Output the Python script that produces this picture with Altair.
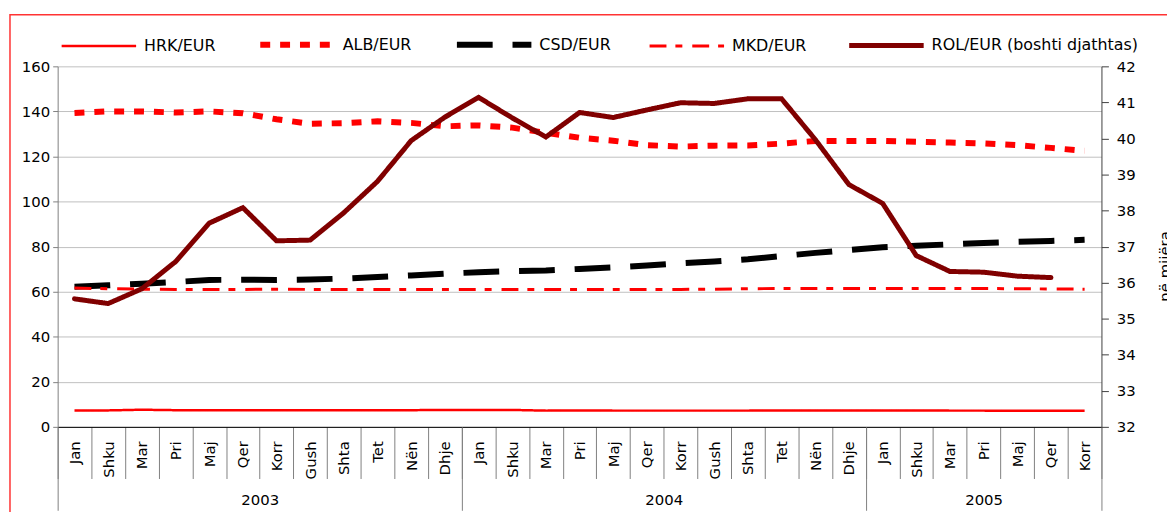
import altair as alt
import pandas as pd

months = ["Jan", "Shku", "Mar", "Pri", "Maj", "Qer", "Korr", "Gush", "Shta", "Tet", "Nën", "Dhje"]
years = ["2003", "2004", "2005"]
year_centers = [6, 18, 27.5]
year_bounds = [0, 12, 24, 31]

series_names = ["HRK/EUR", "ALB/EUR", "CSD/EUR", "MKD/EUR", "ROL/EUR (boshti djathtas)"]

hrk = [7.3, 7.3, 7.6, 7.4, 7.4, 7.4, 7.4, 7.4, 7.4, 7.4, 7.4, 7.5,
       7.5, 7.5, 7.2, 7.3, 7.2, 7.2, 7.2, 7.2, 7.2, 7.3, 7.3, 7.3,
       7.3, 7.3, 7.2, 7.2, 7.1, 7.1, 7.1]
alb = [139.3, 140.0, 140.0, 139.5, 140.0, 139.2, 136.5, 134.5, 134.8, 135.6, 134.9, 133.4,
       133.8, 132.8, 130.5, 128.3, 127.0, 125.0, 124.4, 124.8, 124.9, 125.7, 126.9, 126.9,
       126.9, 126.5, 126.2, 125.8, 125.0, 123.8, 122.5]
csd = [62.2, 62.8, 63.5, 64.3, 65.2, 65.3, 65.2, 65.4, 65.8, 66.5, 67.2, 68.0,
       68.6, 69.1, 69.4, 70.1, 70.8, 71.6, 72.6, 73.4, 74.4, 75.8, 77.2, 78.5,
       79.7, 80.4, 81.0, 81.6, 82.1, 82.5, 83.0]
mkd = [61.6, 61.3, 61.1, 61.0, 61.0, 61.0, 61.1, 61.0, 61.0, 61.0, 61.0, 61.0,
       61.0, 61.0, 61.0, 61.0, 61.0, 61.0, 61.0, 61.1, 61.3, 61.4, 61.4, 61.4,
       61.4, 61.4, 61.4, 61.4, 61.3, 61.2, 61.1]
rol = [35.55, 35.42, 35.83, 36.58, 37.65, 38.08, 37.16, 37.18, 37.94, 38.81, 39.94, 40.59,
       41.14, 40.57, 40.04, 40.72, 40.58, 40.79, 40.99, 40.97, 41.10, 41.10, 39.97, 38.72,
       38.20, 36.75, 36.31, 36.29, 36.18, 36.14]

colors = ["#FF0000", "#FF0000", "#000000", "#FF0000", "#800000"]
dashes = [[1, 0], [10, 10], [36, 20], [17, 9, 7, 10], [1, 0]]
widths = [2.5, 6, 6, 3, 5]

FONT = "DejaVu Sans"

rows = []
for name, vals in zip(series_names[:4], [hrk, alb, csd, mkd]):
    for i, v in enumerate(vals):
        rows.append({"x": i + 0.5, "series": name, "value": v})
left_df = pd.DataFrame(rows)
rol_df = pd.DataFrame({"x": [i + 0.5 for i in range(len(rol))],
                       "series": series_names[4], "value": rol})
year_df = pd.DataFrame({"x": year_centers, "year": years})
bound_df = pd.DataFrame({"x": year_bounds})
n_months = 31

xscale = alt.Scale(domain=[0, n_months], nice=False, zero=False)

legend = alt.Legend(orient="none", legendX=1, legendY=-62.5, direction="horizontal",
                    columns=5, columnPadding=33, symbolType="stroke", symbolSize=5625,
                    labelFontSize=16, labelFont=FONT, labelOffset=5, title=None,
                    padding=0, labelLimit=400, labelColor="#000000")

def enc_style():
    return dict(
        color=alt.Color("series:N", scale=alt.Scale(domain=series_names, range=colors), legend=legend),
        strokeDash=alt.StrokeDash("series:N", scale=alt.Scale(domain=series_names, range=dashes), legend=legend),
        strokeWidth=alt.StrokeWidth("series:N", scale=alt.Scale(type="ordinal", domain=series_names, range=widths), legend=legend),
    )

month_expr = "[" + ",".join("'%s'" % m for m in months) + "][floor(datum.value) % 12]"
year_expr = "datum.value < %d ? '%s' : datum.value < %d ? '%s' : '%s'" % (
    year_bounds[1], years[0], year_bounds[2], years[1], years[2])

lines = alt.Chart(left_df).mark_line(strokeCap="butt").encode(
    x=alt.X("x:Q", scale=xscale,
            axis=alt.Axis(values=list(range(n_months + 1)), tickSize=52, tickColor="#808080",
                          tickWidth=1, labels=False, grid=False, domainColor="#000000",
                          orient="bottom", title=None)),
    y=alt.Y("value:Q", scale=alt.Scale(domain=[0, 160], nice=False),
            axis=alt.Axis(values=list(range(0, 161, 20)), orient="left", title=None, grid=True,
                          gridColor="#c0c0c0", domainColor="#808080", tickColor="#808080",
                          tickSize=5, labelFontSize=15, labelPadding=3)),
    **enc_style()
)

rol_line = alt.Chart(rol_df).mark_line(strokeCap="round", strokeJoin="miter").encode(
    x=alt.X("x:Q", scale=xscale,
            axis=alt.Axis(values=[i + 0.5 for i in range(n_months)], labelExpr=month_expr,
                          ticks=False, domain=False, labelAngle=270, labelPadding=14,
                          grid=False, labelFontSize=15, orient="bottom", title=None)),
    y=alt.Y("value:Q", scale=alt.Scale(domain=[32, 42], nice=False, zero=False),
            axis=alt.Axis(orient="right", values=list(range(32, 43)), title="në mijëra",
                          grid=False, tickSize=7, labelPadding=8, labelFontSize=15,
                          domainColor="#404040", tickColor="#404040",
                          titleAngle=270, titleFontSize=15, titleFontWeight="normal",
                          titleFont=FONT, titleX=57, titleY=201, titleBaseline="top",
                          titleAlign="center")),
    **enc_style()
)

year_axis = alt.Chart(year_df).mark_point(opacity=0).encode(
    x=alt.X("x:Q", scale=xscale,
            axis=alt.Axis(values=year_centers, labelExpr=year_expr, ticks=False, domain=False,
                          labelPadding=66, labelAngle=0, labelFontSize=15, orient="bottom",
                          title=None, grid=False))
)

bound_axis = alt.Chart(bound_df).mark_point(opacity=0).encode(
    x=alt.X("x:Q", scale=xscale,
            axis=alt.Axis(values=year_bounds, tickSize=84, tickColor="#808080", labels=False,
                          domain=False, orient="bottom", title=None, grid=False))
)

border = alt.Chart(pd.DataFrame({"a": [0]})).mark_rect(
    fill=None, stroke="#FF3333", strokeWidth=1.5
).encode(x=alt.value(-48), x2=alt.value(1300), y=alt.value(-52), y2=alt.value(700))

chart = alt.layer(border, lines, rol_line, year_axis, bound_axis).resolve_scale(
    y="independent"
).resolve_axis(x="independent", y="independent").properties(
    width=1051, height=363,
    padding={"left": 50, "top": 57, "right": 66, "bottom": 84},
    autosize=alt.AutoSizeParams(type="none"),
).configure_view(stroke=None).configure_axis(
    labelFont=FONT, labelColor="#000000", titleColor="#000000"
).configure_legend(labelFont=FONT)

chart.save("out.html", embed_options={"renderer": "svg", "actions": False})
